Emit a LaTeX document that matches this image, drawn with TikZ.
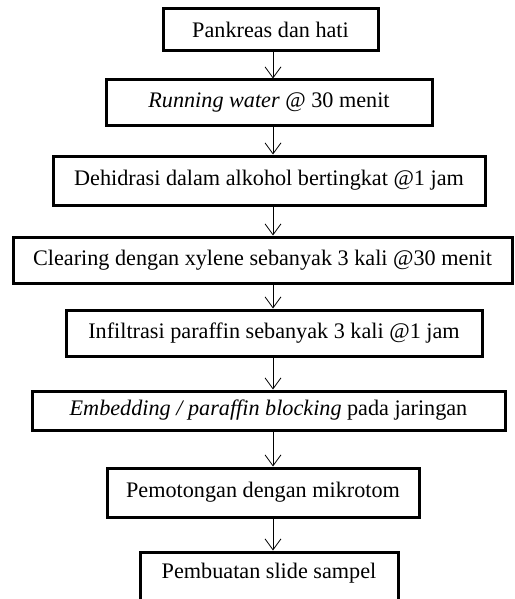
\documentclass[tikz,border=0pt]{standalone}
\usepackage{fontspec}
\setmainfont{Liberation Serif}
\usetikzlibrary{arrows.meta}
\begin{document}
\begin{tikzpicture}[x=1pt,y=-1pt,
  stepbox/.style={draw, line width=3pt, rectangle, inner sep=0pt, font=\fontsize{22.2}{25}\selectfont, anchor=center},
  arr/.style={line width=0.8pt, -{Straight Barb[length=11pt,width=16pt,line width=0.8pt]}}]
\useasboundingbox (0,0) rectangle (514,599);
\begin{scope}
\clip (0,0) rectangle (514,599);
\node[stepbox, minimum width=215pt, minimum height=42pt] (b1) at (270.5,30) {Pankreas dan hati};
\node[stepbox, minimum width=326pt, minimum height=45pt] (b2) at (269,102.5) {\textit{Running water} @ 30 menit};
\node[stepbox, minimum width=432pt, minimum height=49pt] (b3) at (269,180.5) {Dehidrasi dalam alkohol bertingkat @1 jam};
\node[stepbox, minimum width=499pt, minimum height=46pt] (b4) at (262.5,260) {Clearing dengan xylene sebanyak 3 kali @30 menit};
\node[stepbox, minimum width=416pt, minimum height=46pt] (b5) at (274,333) {Infiltrasi paraffin sebanyak 3 kali @1 jam};
\node[stepbox, minimum width=473pt, minimum height=39pt] (b6) at (268.5,410.5) {\textit{Embedding / paraffin blocking} pada jaringan};
\node[stepbox, minimum width=312pt, minimum height=49pt] (b7) at (263,492.5) {Pemotongan dengan mikrotom};
\node[stepbox, minimum width=258pt, minimum height=60pt, text depth=0pt] (b8) at (269,582) {};
\node[font=\fontsize{22.2}{25}\selectfont] (t8) at (269,573) {Pembuatan slide sampel};
\end{scope}
\coordinate (ax) at (273,0);
\draw[arr] (b1.south -| ax) -- (b2.north -| ax);
\draw[arr] (b2.south -| ax) -- (b3.north -| ax);
\draw[arr] (b3.south -| ax) -- (b4.north -| ax);
\draw[arr] (b4.south -| ax) -- (b5.north -| ax);
\draw[arr] (b5.south -| ax) -- (b6.north -| ax);
\draw[arr] (b6.south -| ax) -- (b7.north -| ax);
\draw[arr] (b7.south -| ax) -- (b8.north -| ax);
\end{tikzpicture}
\end{document}
